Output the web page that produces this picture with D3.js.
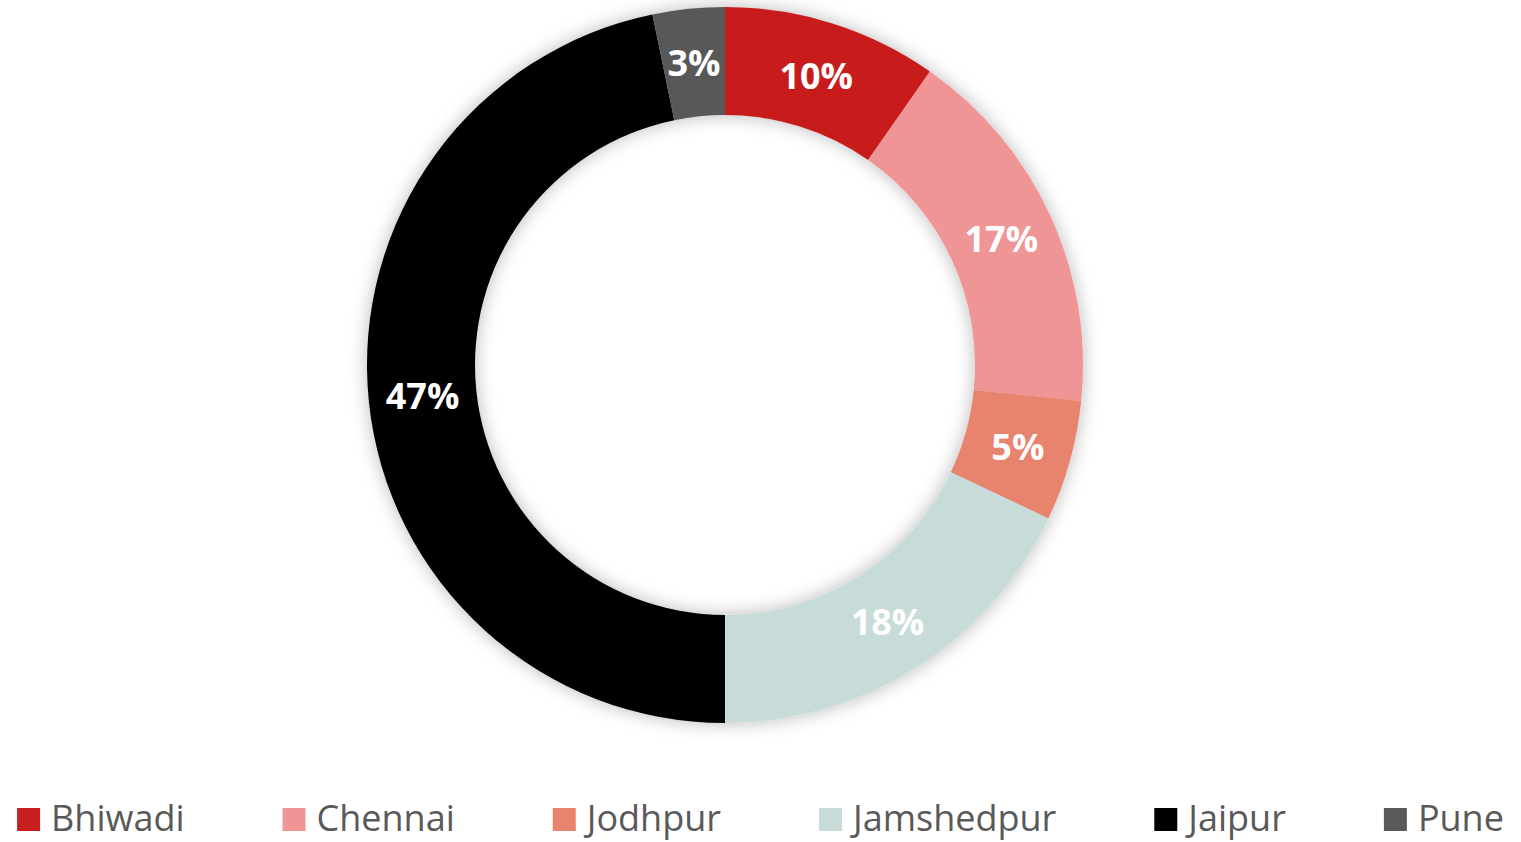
<!DOCTYPE html>
<html>
<head>
<meta charset="utf-8">
<script src="https://cdn.jsdelivr.net/npm/d3@7"></script>
<style>
  html, body { margin: 0; padding: 0; background: #ffffff; }
  svg { display: block; }
</style>
</head>
<body>
<div id="chart"></div>
<script>
// Data
const cities = ["Bhiwadi", "Chennai", "Jodhpur", "Jamshedpur", "Jaipur", "Pune"];
const shares = [9.7, 16.9, 5.45, 17.95, 46.75, 3.25];
const labels = ["10%", "17%", "5%", "18%", "47%", "3%"];
const colors = ["#C81E1E", "#EF9595", "#E8836E", "#C7DCD9", "#000000", "#595959"];

const width = 1521;
const height = 842;
const cx = 725, cy = 365;
const outerR = 358, innerR = 250;

const data = cities.map((c, i) => ({ city: c, value: shares[i], label: labels[i], color: colors[i] }));

const svg = d3.select("#chart")
  .append("svg")
  .attr("width", width)
  .attr("height", height);

// soft shadow around the ring
const defs = svg.append("defs");
const filter = defs.append("filter")
  .attr("id", "ring-shadow")
  .attr("x", "-20%").attr("y", "-20%")
  .attr("width", "140%").attr("height", "140%");
filter.append("feDropShadow")
  .attr("dx", 0)
  .attr("dy", 0)
  .attr("stdDeviation", 9)
  .attr("flood-color", "#000")
  .attr("flood-opacity", 0.28);

const pie = d3.pie()
  .value(d => d.value)
  .sort(null);

const arc = d3.arc()
  .innerRadius(innerR)
  .outerRadius(outerR);

const labelArc = d3.arc()
  .innerRadius((innerR + outerR) / 2)
  .outerRadius((innerR + outerR) / 2);

const arcs = pie(data);

const ring = svg.append("g")
  .attr("transform", `translate(${cx},${cy})`);

ring.append("g")
  .attr("filter", "url(#ring-shadow)")
  .selectAll("path")
  .data(arcs)
  .join("path")
  .attr("d", arc)
  .attr("fill", d => d.data.color);

// percentage labels
ring.selectAll("text")
  .data(arcs)
  .join("text")
  .attr("transform", d => `translate(${labelArc.centroid(d)})`)
  .attr("text-anchor", "middle")
  .attr("dominant-baseline", "central")
  .style("font-family", "'Open Sans', sans-serif")
  .style("font-size", "36px")
  .style("font-weight", "bold")
  .style("fill", "#ffffff")
  .text(d => d.data.label);

// legend, laid out from text widths and centred
const legend = svg.append("g");
const box = 23, textGap = 11, itemGap = 98;

const items = legend.selectAll("g")
  .data(data)
  .join("g");

items.append("rect")
  .attr("x", 0)
  .attr("y", -box)
  .attr("width", box)
  .attr("height", box)
  .attr("fill", d => d.color);

items.append("text")
  .attr("x", box + textGap)
  .attr("y", 0)
  .style("font-family", "'Open Sans', sans-serif")
  .style("font-size", "36px")
  .style("fill", "#595959")
  .text(d => d.city);

let xPos = 0;
const offsets = [];
items.each(function () {
  const w = d3.select(this).select("text").node().getComputedTextLength();
  offsets.push(xPos);
  xPos += box + textGap + w + itemGap;
});
const total = xPos - itemGap;
const startX = (width - total) / 2;

items.attr("transform", (d, i) => `translate(${startX + offsets[i]},831)`);
</script>
</body>
</html>
